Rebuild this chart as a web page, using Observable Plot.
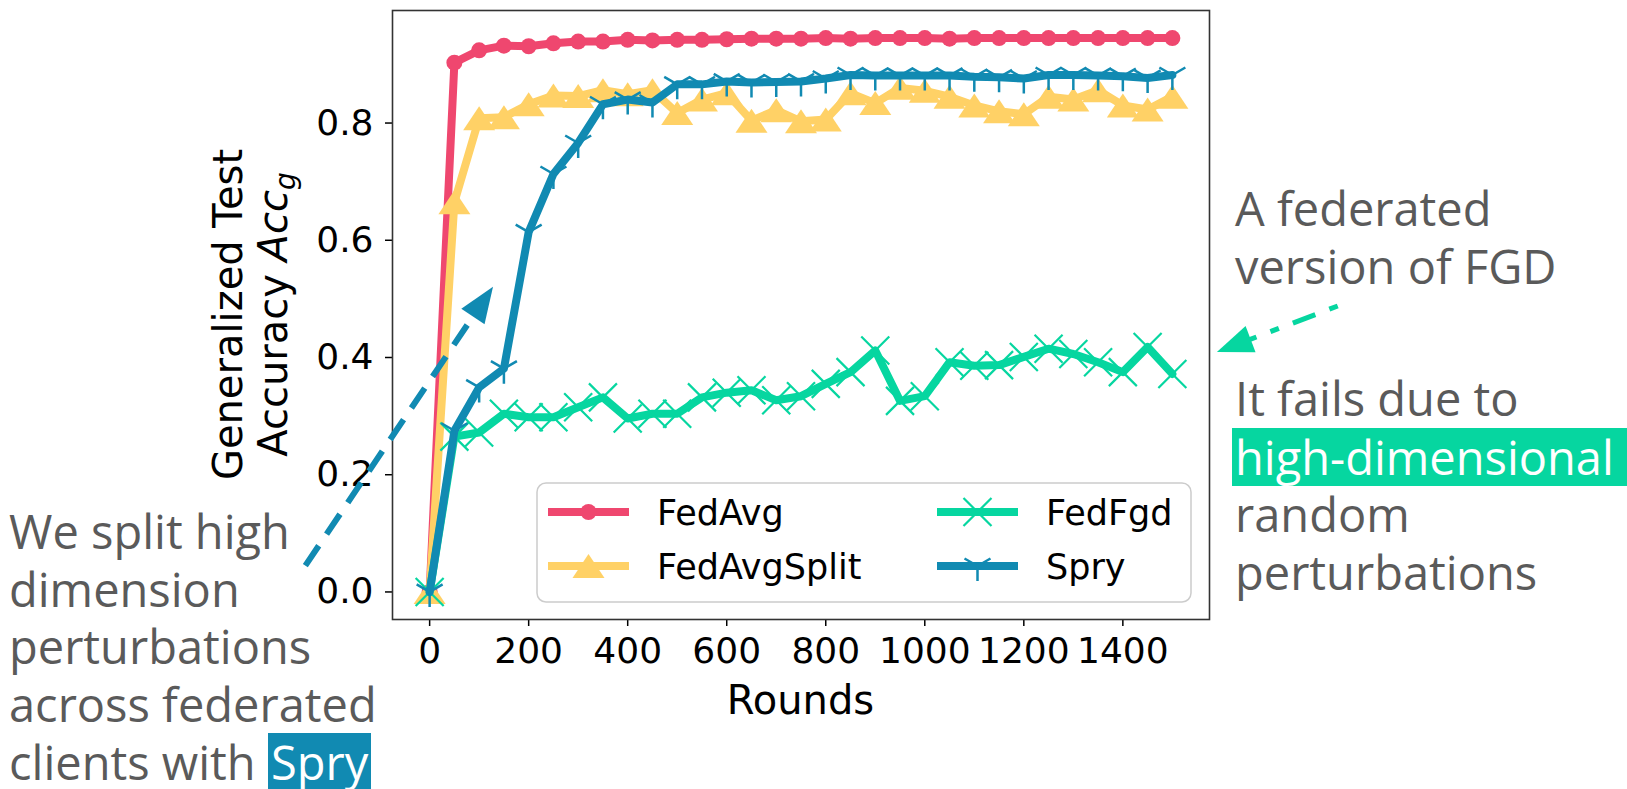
<!DOCTYPE html>
<html><head><meta charset="utf-8">
<script src="https://cdn.jsdelivr.net/npm/d3@7"></script>
<script src="https://cdn.jsdelivr.net/npm/@observablehq/plot@0.6"></script>
<style>
body{margin:0;background:#fff;}
#wrap{position:relative;width:1627px;height:789px;overflow:hidden;background:#fff;}
.note{position:absolute;font-family:"Open Sans";font-size:47px;line-height:57.5px;color:#5a5a5a;white-space:nowrap;}
.hl{color:#fff;display:inline-block;height:58px;line-height:58px;vertical-align:baseline;}
</style></head><body><div id="wrap"></div>
<script>
// ---- data ----
const rounds = [0,50,100,150,200,250,300,350,400,450,500,550,600,650,700,750,800,850,900,950,1000,1050,1100,1150,1200,1250,1300,1350,1400,1450,1500];
const fedAvg = [0.0,0.903,0.924,0.932,0.931,0.936,0.939,0.939,0.942,0.941,0.942,0.942,0.943,0.944,0.944,0.944,0.945,0.944,0.945,0.945,0.945,0.944,0.945,0.945,0.945,0.945,0.945,0.945,0.945,0.945,0.945];
const fedAvgSplit = [0.0,0.665,0.808,0.810,0.832,0.847,0.846,0.856,0.849,0.856,0.817,0.840,0.851,0.804,0.822,0.803,0.806,0.851,0.834,0.860,0.855,0.845,0.830,0.820,0.815,0.845,0.840,0.856,0.830,0.823,0.845];
const fedFgd = [0.0,0.265,0.272,0.304,0.298,0.298,0.315,0.332,0.296,0.304,0.304,0.332,0.340,0.344,0.327,0.334,0.355,0.375,0.412,0.326,0.334,0.392,0.386,0.387,0.401,0.415,0.406,0.392,0.375,0.418,0.372];
const spry = [0.0,0.275,0.349,0.381,0.614,0.713,0.766,0.832,0.840,0.835,0.866,0.866,0.871,0.869,0.870,0.871,0.876,0.882,0.881,0.881,0.881,0.881,0.879,0.878,0.876,0.882,0.882,0.881,0.880,0.877,0.882];
const seriesNames = ["FedAvg","FedAvgSplit","FedFgd","Spry"];
const seriesValues = [fedAvg, fedAvgSplit, fedFgd, spry];
const seriesColors = ["#EF476F","#FFD166","#06D6A0","#118AB2"];
const xTicks = [0,200,400,600,800,1000,1200,1400];
const yTicks = [0,0.2,0.4,0.6,0.8];
const xLabel = "Rounds";
const yLabel1 = "Generalized Test";
const yLabel2 = "Accuracy ";
// annotation arrows in data coordinates (tail -> tip)
const arrowTails = [[-250,0.044],[1835,0.487]];
const arrowTips = [[129,0.520],[1591,0.4085]];
const arrowColors = ["#118AB2","#06D6A0"];

// ---- custom matplotlib-like symbols ----
const rOf = s => Math.sqrt(s/Math.PI);
const triUp = {draw(c,s){const r=rOf(s);c.moveTo(0,-0.75*r);c.lineTo(r,0.75*r);c.lineTo(-r,0.75*r);c.closePath();}};
const xMark = {draw(c,s){const r=rOf(s);c.moveTo(-r,-r);c.lineTo(r,r);c.moveTo(r,-r);c.lineTo(-r,r);}};
const triDown = {draw(c,s){const r=rOf(s);c.moveTo(0,0);c.lineTo(0,r);c.moveTo(0,0);c.lineTo(-0.866*r,-0.5*r);c.moveTo(0,0);c.lineTo(0.866*r,-0.5*r);}};
const markerSpecs = [
  {symbol:"circle", r:8, filled:true},
  {symbol:triUp, r:16, filled:true},
  {symbol:xMark, r:14, filled:false, sw:2.2},
  {symbol:triDown, r:15, filled:false, sw:2.5}
];

const table = [];
seriesNames.forEach((name,k)=>rounds.forEach((x,i)=>table.push({name, x, y: seriesValues[k][i]})));

const marks = [];
seriesNames.forEach((name,k)=>{
  const d = table.filter(t=>t.name===name);
  marks.push(Plot.line(d,{x:"x",y:"y",stroke:seriesColors[k],strokeWidth:8,strokeLinejoin:"round"}));
  const m = markerSpecs[k];
  marks.push(Plot.dot(d,{x:"x",y:"y",r:m.r,symbol:m.symbol,
    fill: m.filled?seriesColors[k]:"none", stroke: m.filled?"none":seriesColors[k], strokeWidth:m.sw||0}));
});

const chart = Plot.plot({
  width:1627, height:789,
  marginLeft:392, marginRight:418, marginTop:10, marginBottom:170,
  style:{fontFamily:"DejaVu Sans", background:"white", color:"black", overflow:"visible"},
  x:{domain:[-75,1575]},
  y:{domain:[-0.047,0.992]},
  marks:[
    Plot.axisX({ticks:xTicks, tickSize:7, tickPadding:11, fontSize:36, label:null, tickFormat:d3.format("d"), strokeWidth:1.5}),
    Plot.axisY({ticks:yTicks, tickSize:7, tickPadding:12, fontSize:36, label:null, tickFormat:d3.format(".1f"), strokeWidth:1.5}),
    ...marks,
    Plot.frame({stroke:"#333", strokeWidth:1.6})
  ]
});
document.getElementById("wrap").appendChild(chart);

const svg = d3.select(chart);
const sx = chart.scale("x"), sy = chart.scale("y");
const [X0,X1] = sx.range, [Y0,Y1] = sy.range;
const cx = (Math.min(X0,X1)+Math.max(X0,X1))/2;
const cy = (Math.min(Y0,Y1)+Math.max(Y0,Y1))/2;

// axis labels
svg.append("text").attr("x",cx).attr("y",714).attr("text-anchor","middle")
  .attr("font-family","DejaVu Sans").attr("font-size",40).text(xLabel);
svg.append("text").attr("transform",`translate(242,${cy}) rotate(-90)`).attr("text-anchor","middle")
  .attr("font-family","DejaVu Sans").attr("font-size",40).text(yLabel1);
const t2 = svg.append("text").attr("transform",`translate(287,${cy}) rotate(-90)`).attr("text-anchor","middle")
  .attr("font-family","DejaVu Sans").attr("font-size",40);
t2.append("tspan").text(yLabel2);
t2.append("tspan").attr("font-style","italic").text("Acc");
t2.append("tspan").attr("font-style","italic").attr("font-size",28).attr("dy","0.3em").text("g");

// legend
const lg = svg.append("g").attr("text-anchor","start");
lg.append("rect").attr("x",537).attr("y",483).attr("width",654).attr("height",119).attr("rx",9)
  .attr("fill","white").attr("fill-opacity",0.8).attr("stroke","#cccccc").attr("stroke-width",1.5);
const legPos = [[548,512],[548,566],[937,512],[937,566]];
seriesNames.forEach((name,k)=>{
  const [lx,ly] = legPos[k];
  lg.append("line").attr("x1",lx).attr("x2",lx+81).attr("y1",ly).attr("y2",ly)
    .attr("stroke",seriesColors[k]).attr("stroke-width",8);
  const m = markerSpecs[k];
  const type = m.symbol==="circle"?d3.symbolCircle:m.symbol;
  lg.append("path").attr("transform",`translate(${lx+40.5},${ly})`)
    .attr("d",d3.symbol(type, m.r*m.r*Math.PI)())
    .attr("fill",m.filled?seriesColors[k]:"none").attr("stroke",m.filled?"none":seriesColors[k])
    .attr("stroke-width",m.sw||0);
  lg.append("text").attr("x",lx+109).attr("y",ly).attr("dy","0.36em").attr("text-anchor","start")
    .attr("font-family","DejaVu Sans").attr("font-size",35).text(name);
});

// annotation arrows
const ag = svg.append("g");
arrowTails.forEach((tail,k)=>{
  const p1=[sx.apply(tail[0]),sy.apply(tail[1])];
  const p2=[sx.apply(arrowTips[k][0]),sy.apply(arrowTips[k][1])];
  const dx=p2[0]-p1[0], dy=p2[1]-p1[1], L=Math.hypot(dx,dy), ux=dx/L, uy=dy/L;
  const HL=36, HW=14;
  const b=[p2[0]-HL*ux,p2[1]-HL*uy];
  ag.append("line").attr("x1",p1[0]).attr("y1",p1[1]).attr("x2",b[0]+4*ux).attr("y2",b[1]+4*uy)
    .attr("stroke",arrowColors[k]).attr("stroke-width",k===0?6:5)
    .attr("stroke-dasharray",k===0?"24,14":"9,15,24,15");
  ag.append("path").attr("d",`M${p2[0]},${p2[1]}L${b[0]-HW*uy},${b[1]+HW*ux}L${b[0]+HW*uy},${b[1]-HW*ux}Z`)
    .attr("fill",arrowColors[k]);
});

// text annotations
const wrap = document.getElementById("wrap");
function note(html,left,top){const d=document.createElement("div");d.className="note";d.style.left=left+"px";d.style.top=top+"px";d.innerHTML=html;wrap.appendChild(d);}
note('We split high<br>dimension<br>perturbations<br>across federated<br>clients with <span class="hl" style="background:#118AB2;padding:0 3px;">Spry</span>',9,503);
note('A federated<br>version of FGD',1235,180);
note('It fails due to<br><span class="hl" style="background:#06D6A0;padding:0 20px 0 3px;margin-left:-3px;">high-dimensional</span><br>random<br>perturbations',1235,370);
</script>
</body></html>
